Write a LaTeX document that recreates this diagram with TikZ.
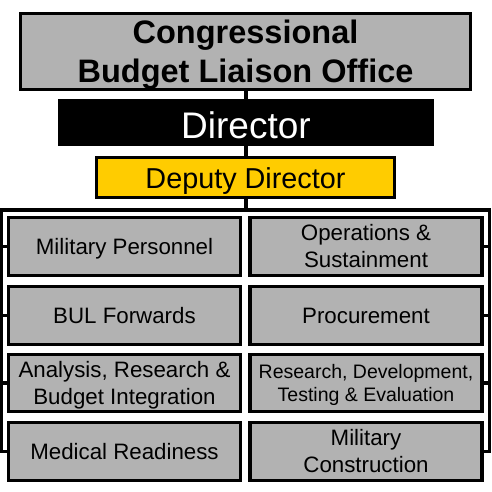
\documentclass[tikz,border=0pt]{standalone}
\usepackage{fontspec}
\setmainfont{Liberation Sans}
\definecolor{boxgray}{RGB}{178,178,178}
\definecolor{depyellow}{RGB}{255,204,0}
\begin{document}
\begin{tikzpicture}[x=1pt,y=-1pt,
  box/.style={draw=black, line width=3.3pt, fill=boxgray, inner sep=0pt, align=center,
    font=\fontsize{22.3}{27}\selectfont, minimum width=232pt, minimum height=57.5pt},
  single/.style={text height=16.4pt, text depth=0pt},
  conn/.style={draw=black, line width=3.3pt, line join=miter}]
\useasboundingbox (0,0) rectangle (492,492);

\node[draw=black, line width=3.3pt, fill=boxgray, inner sep=0pt, align=center,
  minimum width=450pt, minimum height=76pt, text depth=0pt,
  font=\fontsize{32.5}{39}\selectfont\bfseries] (cblo) at (245.5,51.5) {Congressional\\Budget Liaison Office};
\node[draw=black, line width=3.3pt, fill=black, text=white, inner sep=0pt,
  minimum width=373pt, minimum height=44pt, text height=31pt, text depth=0pt,
  font=\fontsize{37}{44}\selectfont] (dir) at (246,122.5) {Director};
\node[draw=black, line width=3.3pt, fill=depyellow, inner sep=0pt,
  minimum width=298pt, minimum height=40pt, text height=21.8pt, text depth=0pt,
  font=\fontsize{28.8}{34}\selectfont] (dep) at (245.5,177.5) {Deputy Director};

\node[box, single] (L1) at (124.5,246.5) {Military Personnel};
\node[box, single] (L2) at (124.5,315.5) {BUL Forwards};
\node[box, text depth=0pt] (L3) at (124.5,383) {Analysis, Research \&\\Budget Integration};
\node[box, single] (L4) at (124.5,451.5) {Medical Readiness};
\node[box] (R1) at (366,246.5) {Operations \&\\Sustainment};
\node[box, single] (R2) at (366,315.5) {Procurement};
\node[box, text depth=0pt, font=\fontsize{19.5}{23.5}\selectfont] (R3) at (366,383) {Research, Development,\\Testing \& Evaluation};
\node[box] (R4) at (366,451.5) {Military\\Construction};

\coordinate (busM) at (246,210);
\coordinate (busL) at (1.7,210);
\coordinate (busR) at (489.7,210);

\draw[conn] (cblo.south -| busM) -- (dir.north -| busM);
\draw[conn] (dir.south -| busM) -- (dep.north -| busM);
\draw[conn] (dep.south -| busM) -- (busM);
\draw[conn] (L4.west) -| (busL) -- (busR) |- (R4.east);
\foreach \n in {L1,L2,L3} \draw[conn] (\n.west) -- (\n.west -| busL);
\foreach \n in {R1,R2,R3} \draw[conn] (\n.east) -- (\n.east -| busR);
\end{tikzpicture}
\end{document}
